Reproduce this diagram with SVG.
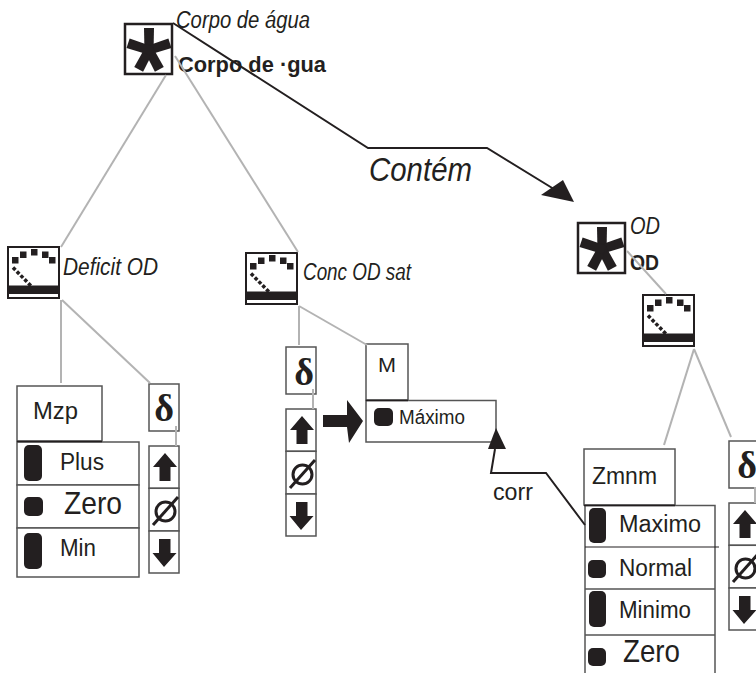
<svg xmlns="http://www.w3.org/2000/svg" xmlns:xlink="http://www.w3.org/1999/xlink" width="756" height="673" viewBox="0 0 756 673">
<style>
text{font-family:"Liberation Sans",Arial,sans-serif;fill:#231f20}
.i{font-style:italic;font-size:23px}
.b{font-weight:bold;font-size:22px}
.l{font-size:23px}
.z{font-size:32px}
.d{font-family:"Liberation Serif","DejaVu Serif",serif;font-weight:bold;font-size:38px;text-anchor:middle}
.box{fill:#fff;stroke:#555;stroke-width:1.5}
.gl{stroke:#b3b3b3;stroke-width:2;fill:none}
.bl{stroke:#231f20;stroke-width:2;fill:none}
.pill{fill:#231f20}
</style>
<defs>
<path id="arm" d="M20.500 30 L20 5 L30 5 L29.500 30Z"/>
<g id="star">
<rect x="1" y="1" width="47" height="50" fill="#fff" stroke="#231f20" stroke-width="2.5"/>
<g fill="#231f20">
<use xlink:href="#arm" href="#arm"/>
<use xlink:href="#arm" href="#arm" transform="rotate(72 25 27)"/>
<use xlink:href="#arm" href="#arm" transform="rotate(152 25 27)"/>
<use xlink:href="#arm" href="#arm" transform="rotate(208 25 27)"/>
<use xlink:href="#arm" href="#arm" transform="rotate(288 25 27)"/>
</g>
</g>
<g id="gauge">
<rect x="1" y="1" width="51" height="51" fill="#fff" stroke="#231f20" stroke-width="2"/>
<rect x="1" y="39.500" width="51" height="8.500" fill="#231f20"/>
<g fill="#231f20"><rect x="5" y="11" width="6.500" height="6.500"/><rect x="13" y="5.500" width="6.500" height="6.500"/><rect x="24" y="3" width="6.500" height="6.500"/><rect x="35" y="5.500" width="6.500" height="6.500"/><rect x="42" y="11" width="6.500" height="6.500"/></g>
<path d="M6 21.500 L24 40" stroke="#231f20" stroke-width="3.500" stroke-dasharray="3.500 2" fill="none"/>
</g>
<g id="arrows">
<rect x="0" y="0" width="30" height="42.300" class="box"/>
<rect x="0" y="42.300" width="30" height="42.700" class="box"/>
<rect x="0" y="85" width="30" height="42" class="box"/>
<path d="M16 7 L28 21 L21.500 21 L21.500 35 L10.500 35 L10.500 21 L4 21Z" fill="#231f20"/>
<ellipse cx="16.500" cy="65.500" rx="9.500" ry="9.500" fill="none" stroke="#231f20" stroke-width="3"/>
<path d="M4 79 L29 51" stroke="#231f20" stroke-width="3"/>
<path d="M15 121 L27.500 107 L21.500 107 L21.500 93 L10 93 L10 107 L3.500 107Z" fill="#231f20"/>
</g>
</defs>

<g id="corpo">
<use xlink:href="#star" href="#star" x="124" y="23"/>
<text class="i" x="176" y="28" textLength="134" lengthAdjust="spacingAndGlyphs">Corpo de água</text>
<text class="b" x="178" y="72" textLength="148" lengthAdjust="spacingAndGlyphs">Corpo de ·gua</text>
</g>
<g id="contem"><text x="369" y="181" style="font-style:italic;font-size:34px" textLength="103" lengthAdjust="spacingAndGlyphs">Contém</text></g>
<g id="corr"><text x="493" y="500" class="l" textLength="40" lengthAdjust="spacingAndGlyphs">corr</text></g>

<g id="od">
<use xlink:href="#star" href="#star" x="577" y="222"/>
<text class="i" x="630" y="234" textLength="30" lengthAdjust="spacingAndGlyphs">OD</text>
<text class="b" x="630" y="270" textLength="29" lengthAdjust="spacingAndGlyphs">OD</text>
</g>

<g id="deficit">
<use xlink:href="#gauge" href="#gauge" x="7" y="246"/>
<text class="i" x="63" y="275" textLength="95" lengthAdjust="spacingAndGlyphs">Deficit OD</text>
</g>
<g id="conc">
<use xlink:href="#gauge" href="#gauge" x="245" y="252"/>
<text class="i" x="303" y="280" textLength="108" lengthAdjust="spacingAndGlyphs">Conc OD sat</text>
</g>
<g id="gauge3"><use xlink:href="#gauge" href="#gauge" x="642" y="294"/></g>

<g id="mzp">
<rect class="box" x="17" y="386" width="85" height="55"/>
<text class="l" x="33" y="419" textLength="45" lengthAdjust="spacingAndGlyphs">Mzp</text>
<rect class="box" x="17" y="442" width="122" height="43"/>
<rect class="box" x="17" y="485" width="122" height="43"/>
<rect class="box" x="17" y="528" width="122" height="49"/>
<path d="M17 441.500 H102" stroke="#231f20" stroke-width="1.500"/>
<rect class="pill" x="24" y="445" width="18" height="36" rx="5"/>
<rect class="pill" x="24" y="497" width="19" height="19" rx="5"/>
<rect class="pill" x="24" y="533" width="18" height="36" rx="5"/>
<text class="l" x="60" y="470" textLength="44" lengthAdjust="spacingAndGlyphs">Plus</text>
<text class="z" x="64" y="514" textLength="58" lengthAdjust="spacingAndGlyphs">Zero</text>
<text class="l" x="60" y="556" textLength="36" lengthAdjust="spacingAndGlyphs">Min</text>
</g>
<g id="delta1">
<rect class="box" x="149" y="384" width="30" height="47"/>
<text class="d" x="164" y="421">δ</text>
</g>
<g id="arrows1"><use xlink:href="#arrows" href="#arrows" x="149" y="446"/></g>

<g id="delta2">
<rect class="box" x="286" y="347" width="30" height="47"/>
<text class="d" x="304" y="385">δ</text>
</g>
<g id="arrows2"><use xlink:href="#arrows" href="#arrows" x="286" y="409"/></g>
<g id="m">
<rect class="box" x="366" y="344" width="42" height="56"/>
<text x="378" y="372" style="font-size:20px" textLength="18" lengthAdjust="spacingAndGlyphs">M</text>
</g>
<g id="maximo">
<rect class="box" x="366" y="400.500" width="130" height="41.500"/>
<path d="M366 400.500 H408" stroke="#231f20" stroke-width="1.500"/>
<rect class="pill" x="374" y="408" width="19" height="18" rx="5"/>
<text x="399" y="424" style="font-size:20px" textLength="66" lengthAdjust="spacingAndGlyphs">Máximo</text>
</g>

<g id="zmnm">
<rect class="box" x="584" y="449" width="91" height="56"/>
<text class="l" x="592" y="484" textLength="65" lengthAdjust="spacingAndGlyphs">Zmnm</text>
<path d="M585 673 V505.500 H715 V673" fill="#fff" stroke="#555" stroke-width="1.500"/>
<path d="M584 505.500 H675" stroke="#231f20" stroke-width="1.500"/>
<path d="M585 547 H719" stroke="#231f20" stroke-width="1.200"/>
<path d="M585 589 H715 M585 635 H715" stroke="#555" stroke-width="1.500"/>
<rect class="pill" x="589" y="508" width="17" height="35" rx="5"/>
<rect class="pill" x="588" y="560" width="18" height="18" rx="5"/>
<rect class="pill" x="589" y="591" width="17" height="36" rx="5"/>
<rect class="pill" x="588" y="648" width="18" height="18" rx="5"/>
<text class="l" x="619" y="532" textLength="82" lengthAdjust="spacingAndGlyphs">Maximo</text>
<text class="l" x="619" y="576" textLength="73" lengthAdjust="spacingAndGlyphs">Normal</text>
<text class="l" x="619" y="618" textLength="72" lengthAdjust="spacingAndGlyphs">Minimo</text>
<text class="z" x="623" y="662" textLength="57" lengthAdjust="spacingAndGlyphs">Zero</text>
</g>
<g id="delta3">
<rect class="box" x="729" y="441" width="30" height="47"/>
<text class="d" x="747" y="478">δ</text>
</g>
<g id="arrows3"><use xlink:href="#arrows" href="#arrows" x="729" y="503"/></g>

<g id="connectors">
<path class="gl" d="M166 75 L61 247"/>
<path class="gl" d="M175 56 L298 252"/>
<path class="gl" d="M61 300 L61 383"/>
<path class="gl" d="M62 300 L150 383"/>
<path class="gl" d="M176 426 L176 446"/>
<path class="gl" d="M299 306 L299 345"/>
<path class="gl" d="M299 306 L367 345"/>
<path class="gl" d="M313 389 L313 409"/>
<path class="gl" d="M627 251 L666 294"/>
<path class="gl" d="M694 349 L664 445"/>
<path class="gl" d="M694 349 L731 437"/>
<path class="gl" d="M755 487 L755 503"/>
<path class="bl" d="M173 23 L368 148 L487 148 L562 194"/>
<path d="M574 202 L541 195 L563 180Z" fill="#231f20"/>
<path class="bl" d="M585 525 L546 473 L491 473 L495 449"/>
<path d="M496 428 L506 449 L488 449Z" fill="#231f20"/>
<path d="M323 415 L347 415 L347 400 L363 421 L349 443 L347 427 L323 427Z" fill="#231f20"/>
</g>
</svg>
